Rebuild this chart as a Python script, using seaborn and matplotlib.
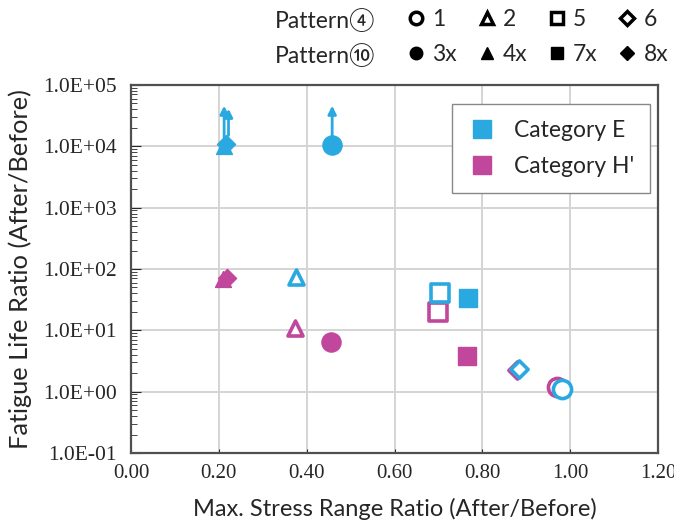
import matplotlib
matplotlib.use("Agg")
import matplotlib.pyplot as plt
from matplotlib.lines import Line2D
from matplotlib.ticker import FuncFormatter, LogLocator, MultipleLocator
import seaborn as sns
import pandas as pd

# pattern order: open markers 1,2,5,6 / filled markers 3x,4x,7x,8x
open_labels = ['1', '2', '5', '6']
filled_labels = ['3x', '4x', '7x', '8x']
shapes = ['o', '^', 's', 'D']

e_open_x = [0.982, 0.375, 0.703, 0.884]
e_open_y = [1.1, 75, 40, 2.35]
e_filled_x = [0.458, 0.212, 0.768, 0.217]
e_filled_y = [1.05e4, 1.0e4, 34, 1.1e4]

h_open_x = [0.970, 0.373, 0.698, 0.879]
h_open_y = [1.2, 11, 20, 2.25]
h_filled_x = [0.456, 0.210, 0.765, 0.219]
h_filled_y = [6.5, 68, 3.8, 70]

# run-outs (lower bounds) of category E, arrow tips
arrow_x = [0.458, 0.212, 0.222]
arrow_from = [1.05e4, 1.0e4, 1.1e4]
arrow_to = [4.6e4, 4.6e4, 4.1e4]

blue = '#2AA9E0'
pink = '#C0479B'

sns.set_style('white')
plt.rcParams['font.family'] = ['Lato', 'DejaVu Sans', 'Noto Sans CJK JP']

fig = plt.figure(figsize=(6.74, 5.24), dpi=100)
ax = fig.add_axes([0.1944, 0.1355, 0.7819, 0.7023])


def draw(xs, ys, color, filled):
    df = pd.DataFrame({'x': xs, 'y': ys, 'm': shapes})
    for i, row in df.iterrows():
        size = {'o': 190, '^': 130, 's': 170, 'D': 85}[shapes[i]]
        if filled:
            sns.scatterplot(data=df.iloc[[i]], x='x', y='y', marker=shapes[i], s=size,
                            color=color, edgecolor=color, linewidth=1, ax=ax, zorder=3)
        else:
            sns.scatterplot(data=df.iloc[[i]], x='x', y='y', marker=shapes[i], s=size * 0.9,
                            facecolor='white', edgecolor=color, linewidth=2.6, ax=ax, zorder=3)


draw(h_open_x, h_open_y, pink, False)
draw(h_filled_x, h_filled_y, pink, True)
draw(e_open_x, e_open_y, blue, False)
draw(e_filled_x, e_filled_y, blue, True)

for x0, y0, y1 in zip(arrow_x, arrow_from, arrow_to):
    ax.annotate('', xy=(x0, y1), xytext=(x0, y0),
                arrowprops=dict(arrowstyle='-|>', color=blue, lw=2, shrinkA=6, shrinkB=0,
                                mutation_scale=12), zorder=4)

ax.set_yscale('log')
ax.set_xlim(0, 1.2)
ax.set_ylim(0.1, 1e5)
ax.xaxis.set_major_locator(MultipleLocator(0.2))
ax.xaxis.set_major_formatter(FuncFormatter(lambda v, p: f'{v:.2f}'))
ax.yaxis.set_major_locator(LogLocator(base=10, numticks=10))
ax.yaxis.set_minor_locator(LogLocator(base=10, subs=range(2, 10), numticks=20))
ax.yaxis.set_major_formatter(FuncFormatter(lambda v, p: f'{v:.1E}'))
ax.grid(True, which='major', color='#d4d4d4', lw=1.4)
ax.set_axisbelow(True)
for sp in ax.spines.values():
    sp.set_color('#505050')
    sp.set_linewidth(1.6)
ax.tick_params(axis='y', which='both', direction='in', left=True, labelsize=15.5, pad=10)
ax.tick_params(axis='y', which='major', length=7)
ax.tick_params(axis='y', which='minor', length=4)
ax.tick_params(axis='x', direction='in', bottom=True, length=3, labelsize=15, pad=8)
for lab in ax.get_xticklabels() + ax.get_yticklabels():
    lab.set_family('Liberation Serif')

ax.set_xlabel('Max. Stress Range Ratio (After/Before)', fontsize=17, labelpad=11)
ax.set_ylabel('Fatigue Life Ratio (After/Before)', fontsize=18.3, labelpad=8)

cat_handles = [Line2D([], [], ls='', marker='s', ms=13, color=blue),
               Line2D([], [], ls='', marker='s', ms=13, color=pink)]
ax.legend(cat_handles, ['Category E', "Category H'"], loc='upper right',
          bbox_to_anchor=(0.985, 0.948), borderaxespad=0, fancybox=False,
          edgecolor='#888888', framealpha=1, fontsize=16.5, handletextpad=0.8,
          labelspacing=0.65, borderpad=0.7, handlelength=1.2)

# pattern key at the top
fig.text(0.408, 0.962, 'Pattern④', fontsize=16.5, va='center')
fig.text(0.408, 0.895, 'Pattern⑩', fontsize=16.5, va='center')
key_handles, key_labels = [], []
for shp, lo, lf in zip(shapes, open_labels, filled_labels):
    key_handles.append(Line2D([], [], ls='', marker=shp, ms=9 if shp != 'D' else 7,
                              mfc='white', mec='black', mew=2.5))
    key_labels.append(lo)
    key_handles.append(Line2D([], [], ls='', marker=shp, ms=9 if shp != 'D' else 7,
                              color='black'))
    key_labels.append(lf)
fig.legend(key_handles, key_labels, ncol=4, loc='center left',
           bbox_to_anchor=(0.602, 0.929), frameon=False, fontsize=16.5,
           handlelength=0.9, handletextpad=0.25, columnspacing=0.85,
           labelspacing=0.6, borderpad=0, borderaxespad=0)

fig.savefig('out.png', dpi=100)
